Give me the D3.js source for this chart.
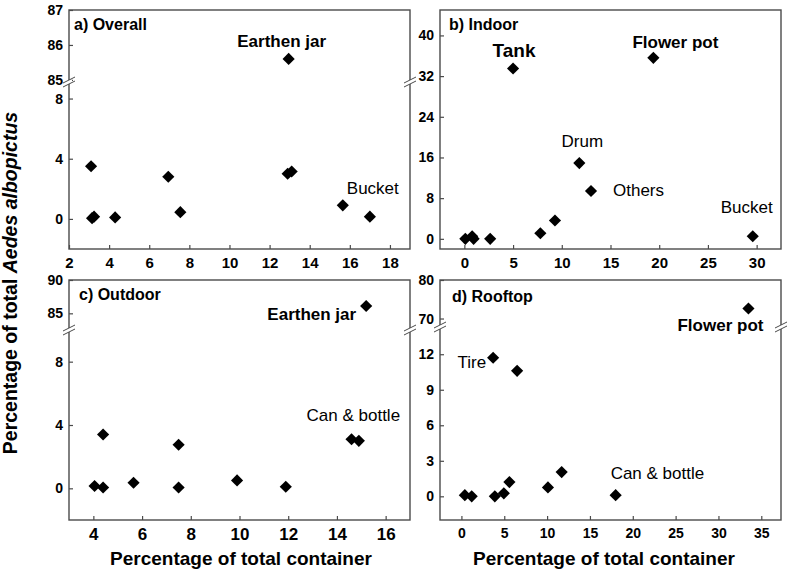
<!DOCTYPE html>
<html><head><meta charset="utf-8">
<script src="https://cdn.jsdelivr.net/npm/d3@7"></script>
<style>
body{margin:0;background:#fff;}
svg text{font-family:"Liberation Sans",Arial,sans-serif;fill:#000;}
</style></head>
<body><svg id="c" width="787" height="578"></svg>
<script>
// ---------- data ----------
const aX = [3.1, 3.15, 3.25, 4.3, 6.95, 7.55, 12.9, 13.1, 15.65, 17.0, 12.95];
const aY = [3.5, 0.05, 0.15, 0.1, 2.8, 0.45, 3.0, 3.15, 0.9, 0.15, 85.6];
const bX = [0.1, 0.8, 0.95, 2.65, 7.8, 9.3, 11.8, 13.0, 29.6, 5.0, 19.4];
const bY = [0.0, 0.5, 0.0, 0.0, 1.1, 3.6, 14.9, 9.4, 0.5, 33.5, 35.6];
const cX = [4.05, 4.4, 4.4, 5.65, 7.5, 7.5, 9.9, 11.9, 14.6, 14.9, 15.2];
const cY = [0.15, 3.4, 0.05, 0.35, 2.75, 0.05, 0.5, 0.1, 3.1, 3.0, 86.1];
const dX = [0.4, 1.2, 3.9, 4.95, 5.6, 10.1, 11.7, 18.0, 3.7, 6.5, 33.5];
const dY = [0.1, 0.0, 0.0, 0.25, 1.2, 0.75, 2.05, 0.1, 11.7, 10.6, 72.6];

const aXTicks = [2, 4, 6, 8, 10, 12, 14, 16, 18];
const aYTicksLow = [0, 4, 8], aYTicksHigh = [85, 86, 87];
const bXTicks = [0, 5, 10, 15, 20, 25, 30];
const bYTicks = [0, 8, 16, 24, 32, 40];
const cXTicks = [4, 6, 8, 10, 12, 14, 16];
const cYTicksLow = [0, 4, 8], cYTicksHigh = [85, 90];
const dXTicks = [0, 5, 10, 15, 20, 25, 30, 35];
const dYTicksLow = [0, 3, 6, 9, 12], dYTicksHigh = [70, 80];

const panelTitles = ["a) Overall", "b) Indoor", "c) Outdoor", "d) Rooftop"];
const xTitle = "Percentage of total container";

// ---------- layout ----------
const svg = d3.select("#c");
const frameColor = "#4a4a4a";
const fmt = d3.format("d");

const panels = [
  {x: aX, y: aY, L: 69, R: 410, T: 10, B: 249, xd: [2, 19], xt: aXTicks,
   low: [-2, 9.1], high: [84.94, 87], brk: 82, ytl: aYTicksLow, yth: aYTicksHigh,
   xfs: 15, yfs: 14, title: panelTitles[0], tx: 74, ty: 30,
   labels: [{i: 10, t: "Earthen jar", bold: true, dx: -7, dy: -12, a: "middle"},
            {i: 8, t: "Bucket", dx: 4, dy: -11, a: "start"}]},
  {x: bX, y: bY, L: 440, R: 781, T: 10, B: 249, xd: [-2.5, 32.5], xt: bXTicks,
   lin: [-2, 45], yt: bYTicks, xfs: 15, yfs: 14, title: panelTitles[1], tx: 449, ty: 30,
   labels: [{i: 9, t: "Tank", bold: true, fs: 19, dx: 1, dy: -11, a: "middle"},
            {i: 10, t: "Flower pot", bold: true, dx: 22, dy: -10, a: "middle"},
            {i: 6, t: "Drum", dx: 3, dy: -16, a: "middle"},
            {i: 7, t: "Others", dx: 22, dy: 5, a: "start"},
            {i: 8, t: "Bucket", dx: -32, dy: -23, a: "start"}]},
  {x: cX, y: cY, L: 69, R: 410, T: 280, B: 520, xd: [3, 17], xt: cXTicks,
   low: [-2, 10], high: [82.5, 90], brk: 330, ytl: cYTicksLow, yth: cYTicksHigh,
   xfs: 17, yfs: 14, title: panelTitles[2], tx: 79, ty: 300,
   labels: [{i: 10, t: "Earthen jar", bold: true, dx: -10, dy: 14, a: "end"},
            {i: 8, t: "Can & bottle", dx: -45, dy: -18, a: "start"}]},
  {x: dX, y: dY, L: 440, R: 781, T: 280, B: 520, xd: [-2.5, 37.3], xt: dXTicks,
   low: [-2, 14.3], high: [67.8, 80], brk: 327, ytl: dYTicksLow, yth: dYTicksHigh,
   xfs: 14, yfs: 14, title: panelTitles[3], tx: 452, ty: 302,
   labels: [{i: 10, t: "Flower pot", bold: true, dx: 15, dy: 22, a: "end"},
            {i: 8, t: "Tire", dx: -7, dy: 10, a: "end"},
            {i: 7, t: "Can & bottle", dx: -5, dy: -16, a: "start"}]}
];

const diamond = d3.symbol(d3.symbolSquare, 74)();

panels.forEach(p => {
  const g = svg.append("g");
  const xs = d3.scaleLinear().domain(p.xd).range([p.L, p.R]);
  let yfun, axesY = [];
  if (p.lin) {
    const ys = d3.scaleLinear().domain(p.lin).range([p.B, p.T]);
    yfun = v => ys(v);
    axesY.push({s: ys, t: p.yt});
  } else {
    const yl = d3.scaleLinear().domain(p.low).range([p.B, p.brk]);
    const yh = d3.scaleLinear().domain(p.high).range([p.brk, p.T]);
    yfun = v => v > p.low[1] ? yh(v) : yl(v);
    axesY.push({s: yl, t: p.ytl}, {s: yh, t: p.yth});
  }
  // frame
  g.append("rect").attr("x", p.L).attr("y", p.T).attr("width", p.R - p.L).attr("height", p.B - p.T)
    .attr("fill", "none").attr("stroke", frameColor).attr("stroke-width", 1.4);
  // x axis
  const xa = g.append("g").attr("transform", `translate(0,${p.B})`)
    .call(d3.axisBottom(xs).tickValues(p.xt).tickFormat(fmt).tickSizeInner(-4).tickSizeOuter(0).tickPadding(8));
  xa.select(".domain").remove();
  xa.selectAll("line").attr("stroke", frameColor).attr("stroke-width", 1.2);
  xa.selectAll("text").attr("font-size", p.xfs).attr("font-weight", "bold")
    .attr("font-family", "Liberation Sans, Arial, sans-serif");
  // y axes
  axesY.forEach(ax => {
    const ya = g.append("g").attr("transform", `translate(${p.L},0)`)
      .call(d3.axisLeft(ax.s).tickValues(ax.t).tickFormat(fmt).tickSizeInner(-4).tickSizeOuter(0).tickPadding(6));
    ya.select(".domain").remove();
    ya.selectAll("line").attr("stroke", frameColor).attr("stroke-width", 1.2);
    ya.selectAll("text").attr("font-size", p.yfs).attr("font-weight", "bold")
      .attr("font-family", "Liberation Sans, Arial, sans-serif");
  });
  // break marks
  if (!p.lin) {
    [p.L, p.R].forEach(bx => {
      const bg = g.append("g").attr("transform", `translate(${bx},${p.brk})`);
      bg.append("rect").attr("x", -3).attr("y", -2).attr("width", 6).attr("height", 4).attr("fill", "#fff");
      [-2, 2].forEach(o => bg.append("line").attr("x1", -6).attr("y1", o + 3).attr("x2", 6).attr("y2", o - 3)
        .attr("stroke", frameColor).attr("stroke-width", 1));
    });
  }
  // points
  const pts = p.x.map((v, i) => ({x: v, y: p.y[i]}));
  g.selectAll("path.pt").data(pts).join("path").attr("class", "pt").attr("d", diamond)
    .attr("transform", d => `translate(${xs(d.x)},${yfun(d.y)}) rotate(45)`).attr("fill", "#000");
  // labels
  p.labels.forEach(l => {
    g.append("text").attr("x", xs(p.x[l.i]) + l.dx).attr("y", yfun(p.y[l.i]) + l.dy)
      .attr("text-anchor", l.a).attr("font-size", l.fs || 17).attr("font-weight", l.bold ? "bold" : "normal")
      .text(l.t);
  });
  g.append("text").attr("x", p.tx).attr("y", p.ty).attr("font-size", 16).attr("font-weight", "bold").text(p.title);
});

// axis titles
svg.append("text").attr("x", 241).attr("y", 565).attr("text-anchor", "middle")
  .attr("font-size", 19).attr("font-weight", "bold").text(xTitle);
svg.append("text").attr("x", 604).attr("y", 565).attr("text-anchor", "middle")
  .attr("font-size", 19).attr("font-weight", "bold").text(xTitle);
const yt = svg.append("text").attr("transform", "translate(17,283) rotate(-90)").attr("text-anchor", "middle")
  .attr("font-size", 19.5).attr("font-weight", "bold");
yt.append("tspan").text("Percentage of total ");
yt.append("tspan").attr("font-style", "italic").text("Aedes albopictus");
</script></body></html>
